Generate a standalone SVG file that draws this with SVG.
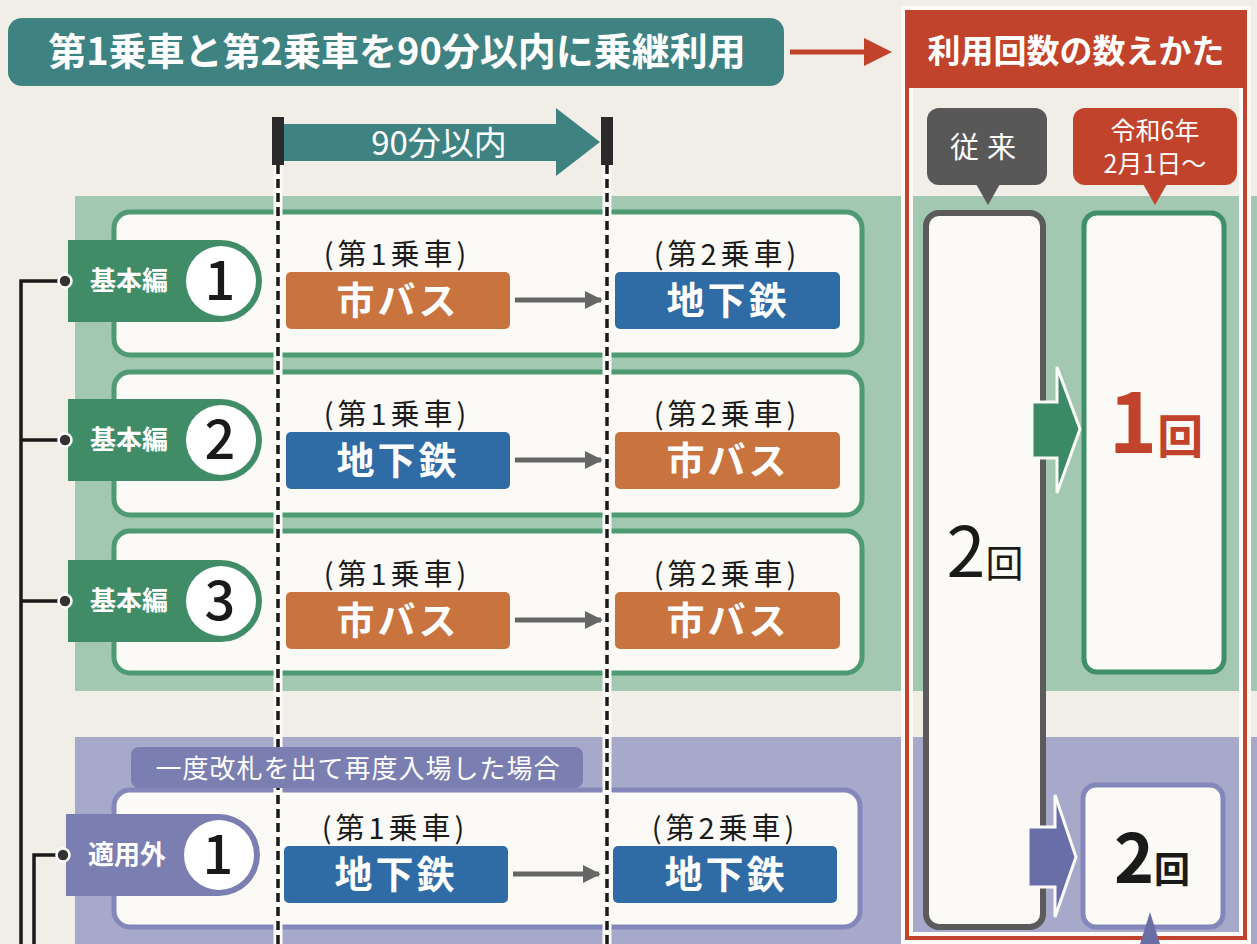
<svg xmlns="http://www.w3.org/2000/svg" width="1257" height="944" viewBox="0 0 1257 944">
<defs>
<style>
text{font-family:"Noto Sans CJK JP","Noto Sans",sans-serif;}
.w{fill:#ffffff;}
.b{font-weight:bold;}
.rowG{fill:#fbfaf6;stroke:#4e9a72;stroke-width:5;}
.rowP{fill:#fbfaf6;stroke:#8487ba;stroke-width:5;}
.tabG{fill:#3f8c67;}
.tabP{fill:#7b7eb1;}
.circ{fill:#ffffff;}
.num{font-size:54px;fill:#1a1a1a;text-anchor:middle;font-weight:500;}
.tabt{font-size:26px;font-weight:bold;fill:#fff;}
.cap{font-size:29px;fill:#1a1a1a;text-anchor:middle;letter-spacing:4px;}
.bus{fill:#c9733f;}
.sub{fill:#2f6ca6;}
.boxt{font-size:38px;font-weight:bold;fill:#fff;text-anchor:middle;letter-spacing:3px;}
.garr{stroke:#666;stroke-width:5;fill:none;}
.conn{stroke:#1a1a1a;stroke-width:3.5;fill:none;}
.dot{fill:#333;stroke:#fff;stroke-width:2.5;}
</style>
<marker id="ah" viewBox="0 0 10 10" refX="9" refY="5" markerWidth="3.6" markerHeight="3.6" orient="auto" markerUnits="strokeWidth">
<path d="M0,0 L10,5 L0,10 Z" fill="#666"/>
</marker>
</defs>
<rect x="0" y="0" width="1257" height="944" fill="#f1eee8"/>

<!-- bands -->
<rect x="75" y="196" width="1182" height="495" fill="#a2c8b1"/>
<rect x="75" y="737" width="1182" height="207" fill="#a7a9cb"/>

<!-- title -->
<g id="title">
<rect x="8" y="18" width="776" height="68" rx="14" fill="#3e8282"/>
<text x="397" y="65" class="w b" font-size="38" text-anchor="middle">第1乗車と第2乗車を90分以内に乗継利用</text>
</g>
<g id="title-arrow">
<line x1="790" y1="52" x2="866" y2="52" stroke="#c2432b" stroke-width="5"/>
<path d="M864,38 L892,52 L864,66 Z" fill="#c2432b"/>
</g>

<!-- 90 min arrow -->
<g id="within90">
<rect x="284" y="124" width="274" height="37" fill="#3e8282"/>
<path d="M556,108 L600,142 L556,176 Z" fill="#3e8282"/>
<text x="439" y="155" class="w" font-size="33" text-anchor="middle">90分以内</text>
</g>

<!-- rows -->
<g id="row1">
<rect class="rowG" x="114" y="212" width="748" height="143" rx="16"/>
<path class="tabG" d="M68,240 H221 A41,41 0 0 1 221,322 H68 Z"/>
<circle class="circ" cx="221" cy="281" r="35"/>
<text class="tabt" x="90" y="290">基本編</text>
<text class="num" x="220" y="300">1</text>
<text class="cap" x="397" y="265">(第1乗車)</text>
<rect class="bus" x="286" y="272" width="224" height="57" rx="5"/>
<text class="boxt" x="398" y="314">市バス</text>
<text class="cap" x="727" y="265">(第2乗車)</text>
<rect class="sub" x="615" y="272" width="225" height="57" rx="5"/>
<text class="boxt" x="728" y="314">地下鉄</text>
</g>
<g id="row2">
<rect class="rowG" x="114" y="372" width="748" height="143" rx="16"/>
<path class="tabG" d="M68,399 H221 A41,41 0 0 1 221,481 H68 Z"/>
<circle class="circ" cx="221" cy="440" r="35"/>
<text class="tabt" x="90" y="449">基本編</text>
<text class="num" x="220" y="459">2</text>
<text class="cap" x="397" y="425">(第1乗車)</text>
<rect class="sub" x="286" y="432" width="224" height="57" rx="5"/>
<text class="boxt" x="398" y="474">地下鉄</text>
<text class="cap" x="727" y="425">(第2乗車)</text>
<rect class="bus" x="615" y="432" width="225" height="57" rx="5"/>
<text class="boxt" x="728" y="474">市バス</text>
</g>
<g id="row3">
<rect class="rowG" x="114" y="531" width="748" height="142" rx="16"/>
<path class="tabG" d="M68,560 H221 A41,41 0 0 1 221,642 H68 Z"/>
<circle class="circ" cx="221" cy="601" r="35"/>
<text class="tabt" x="90" y="610">基本編</text>
<text class="num" x="220" y="620">3</text>
<text class="cap" x="397" y="585">(第1乗車)</text>
<rect class="bus" x="286" y="592" width="224" height="57" rx="5"/>
<text class="boxt" x="398" y="634">市バス</text>
<text class="cap" x="727" y="585">(第2乗車)</text>
<rect class="bus" x="615" y="592" width="225" height="57" rx="5"/>
<text class="boxt" x="728" y="634">市バス</text>
</g>
<g id="row4">
<rect class="rowP" x="114" y="790" width="746" height="137" rx="16"/>
<path class="tabP" d="M66,814 H219 A41,41 0 0 1 219,896 H66 Z"/>
<circle class="circ" cx="219" cy="855" r="35"/>
<text class="tabt" x="88" y="864">適用外</text>
<text class="num" x="218" y="874">1</text>
<text class="cap" x="395" y="839">(第1乗車)</text>
<rect class="sub" x="284" y="846" width="224" height="57" rx="5"/>
<text class="boxt" x="396" y="888">地下鉄</text>
<text class="cap" x="725" y="839">(第2乗車)</text>
<rect class="sub" x="613" y="846" width="224" height="57" rx="5"/>
<text class="boxt" x="726" y="888">地下鉄</text>
</g>

<!-- connectors -->
<g id="connectors">
<line class="garr" x1="515" y1="300" x2="601" y2="300" marker-end="url(#ah)"/>
<line class="garr" x1="515" y1="460" x2="601" y2="460" marker-end="url(#ah)"/>
<line class="garr" x1="515" y1="620" x2="601" y2="620" marker-end="url(#ah)"/>
<line class="garr" x1="513" y1="874" x2="599" y2="874" marker-end="url(#ah)"/>
<path class="conn" d="M60,281 H21 V944"/>
<line class="conn" x1="21" y1="440" x2="60" y2="440"/>
<line class="conn" x1="21" y1="601" x2="60" y2="601"/>
<path class="conn" d="M58,855 H34 V944"/>
<circle class="dot" cx="65" cy="281" r="6.5"/>
<circle class="dot" cx="65" cy="440" r="6.5"/>
<circle class="dot" cx="65" cy="601" r="6.5"/>
<circle class="dot" cx="63" cy="855" r="6.5"/>
</g>

<!-- dashed time lines -->
<g id="timelines">
<line x1="278" y1="165" x2="278" y2="944" stroke="#fbfaf6" stroke-width="9"/>
<line x1="607" y1="165" x2="607" y2="944" stroke="#fbfaf6" stroke-width="9"/>
<line x1="278" y1="165" x2="278" y2="944" stroke="#1a1a1a" stroke-width="3.5" stroke-dasharray="9 5"/>
<line x1="607" y1="165" x2="607" y2="944" stroke="#1a1a1a" stroke-width="3.5" stroke-dasharray="9 5"/>
<rect x="272" y="117" width="12" height="48" fill="#2a2a2a"/>
<rect x="601" y="117" width="12" height="48" fill="#2a2a2a"/>
</g>

<g id="exception-tag">
<rect x="131" y="747" width="452" height="41" rx="8" fill="#7b7eb1"/>
<text x="358" y="778" class="w" font-size="26" text-anchor="middle" letter-spacing="1">一度改札を出て再度入場した場合</text>
</g>

<!-- right panel -->
<g id="count-panel">
<rect x="907" y="12" width="338" height="926" fill="none" stroke="#fbfaf6" stroke-width="12"/>
<rect x="907" y="12" width="338" height="926" fill="none" stroke="#c2432b" stroke-width="4"/>
<rect x="907" y="12" width="338" height="76" fill="#c2432b"/>
<text x="1076" y="63" class="w b" font-size="33" text-anchor="middle">利用回数の数えかた</text>
</g>
<g id="label-old">
<rect x="927" y="108" width="120" height="77" rx="12" fill="#585858"/>
<path d="M976,184 L988,205 L1000,184 Z" fill="#585858"/>
<text x="987" y="158" class="w" font-size="29" text-anchor="middle" letter-spacing="8">従来</text>
</g>
<g id="label-new">
<rect x="1073" y="108" width="164" height="77" rx="12" fill="#c2432b"/>
<path d="M1143,184 L1155,205 L1167,184 Z" fill="#c2432b"/>
<text x="1155" y="140" class="w" font-size="25" text-anchor="middle">令和6年</text>
<text x="1155" y="173" class="w" font-size="25" text-anchor="middle">2月1日～</text>
</g>
<g id="old-count">
<rect x="926" y="213" width="117" height="714" rx="13" fill="#fbfaf6" stroke="#5b5b5b" stroke-width="6"/>
<text x="985" y="577" font-size="70" fill="#1a1a1a" text-anchor="middle">2<tspan font-size="38">回</tspan></text>
</g>
<g id="new-count-1">
<rect x="1084" y="213" width="140" height="459" rx="13" fill="#fbfaf6" stroke="#3f8f69" stroke-width="5"/>
<text x="1156" y="453" font-size="82" font-weight="bold" fill="#c2432b" text-anchor="middle">1<tspan font-size="46">回</tspan></text>
</g>
<g id="new-count-2">
<rect x="1083" y="785" width="140" height="142" rx="13" fill="#fbfaf6" stroke="#8487ba" stroke-width="5"/>
<text x="1152" y="883" font-size="68" font-weight="bold" fill="#1a1a1a" text-anchor="middle">2<tspan font-size="36">回</tspan></text>
<path d="M1150,912 L1160,944 L1140,944 Z" fill="#6a6ea5"/>
</g>
<g id="block-arrows">
<path d="M1032,402 H1057 V367 L1080,429 L1057,493 V458 H1032 Z" fill="#3a8a66" stroke="#fbfaf6" stroke-width="3"/>
<path d="M1028,827 H1055 V795 L1076,857 L1055,917 V887 H1028 Z" fill="#6a6ea8" stroke="#fbfaf6" stroke-width="3"/>
</g>
</svg>
